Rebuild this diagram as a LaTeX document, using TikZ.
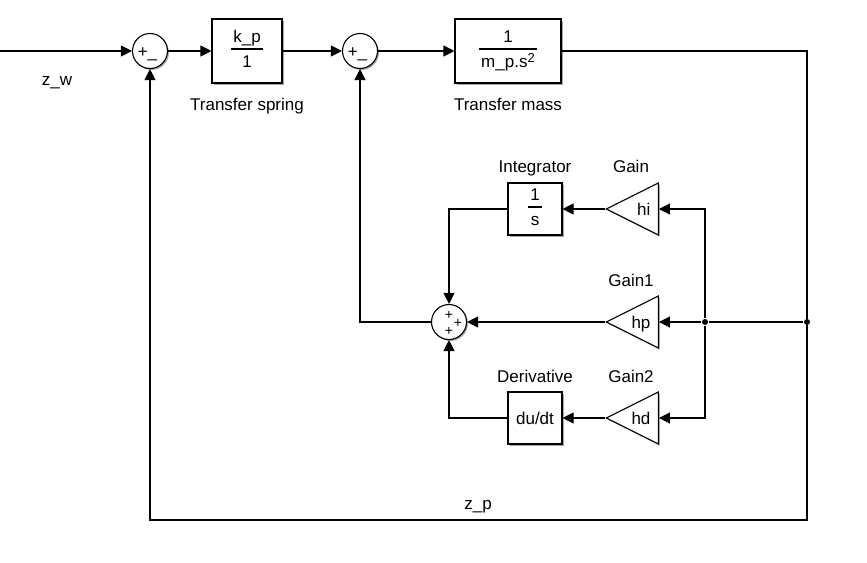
\documentclass[tikz,border=0pt]{standalone}
\usepackage{fontspec}
\setmainfont{Liberation Sans}
\usetikzlibrary{arrows.meta,shapes.geometric,shadows}

\setlength{\arrayrulewidth}{1.1pt}
\newcommand{\blkfrac}[2]{\begin{tabular}{@{\hspace{2pt}}c@{\hspace{2pt}}}#1\\\hline\rule{0pt}{18pt}#2\end{tabular}}

\begin{document}
\begin{tikzpicture}[x=1pt,y=-1pt,
    font=\fontsize{17}{20}\selectfont,
    line width=1.1pt,
    >={Triangle[length=11pt,width=11pt]},
    shadowed/.style={drop shadow={shadow xshift=1.5pt,shadow yshift=-1.5pt,opacity=.35,fill=black}},
    block/.style={draw,fill=white,rectangle,inner sep=0pt,shadowed},
    sumnode/.style={draw,fill=white,circle,minimum size=35pt,inner sep=0pt,shadowed},
    gain/.style={draw,fill=white,isosceles triangle,isosceles triangle stretches,
      shape border rotate=180,minimum width=52pt,minimum height=52pt,inner sep=0pt,
      anchor=apex,shadowed},
    gainlbl/.style={anchor=base east,inner sep=0pt,xshift=-8pt,yshift=-6.5pt},
    sgn/.style={inner sep=0pt},
    smallsgn/.style={inner sep=0pt,font=\fontsize{14}{14}\selectfont},
    dot/.style={circle,fill,inner sep=0pt,minimum size=6pt},
    txt/.style={anchor=base,inner sep=0pt}]

  \useasboundingbox (0,0) rectangle (867,562);

  \begin{scope}[every node/.style={block}]
    \node[minimum width=70pt,minimum height=64pt]  (spring) at (247,51)  {\blkfrac{k\_p}{1}};
    \node[minimum width=106pt,minimum height=64pt] (mass)   at (508,51)
      {\blkfrac{1}{m\_p.s\raisebox{5pt}{\fontsize{13}{13}\selectfont 2}}};
    \node[minimum width=54pt,minimum height=52pt]  (integ)  at (535,209) {\blkfrac{1}{s}};
    \node[minimum width=54pt,minimum height=52pt]  (deriv)  at (535,418) {du/dt};
  \end{scope}

  \node[sumnode,label={[sgn,xshift=-2.5pt,yshift=-3.5pt]center:+\_}] (s1) at (150,51) {};
  \node[sumnode,label={[sgn,xshift=-2.5pt,yshift=-3.5pt]center:+\_}] (s2) at (360,51) {};
  \node[sumnode,label={[smallsgn,yshift=7pt]center:+},
        label={[smallsgn,xshift=9pt,yshift=-1pt]center:+},
        label={[smallsgn,yshift=-9pt]center:+}] (s3) at (449,322) {};

  \node[gain,label={[gainlbl]lower side:hi}] (gi) at (605,209) {};
  \node[gain,label={[gainlbl]lower side:hp}] (gp) at (605,322) {};
  \node[gain,label={[gainlbl]lower side:hd}] (gd) at (605,418) {};

  \node[dot] (b1) at (705,322) {};
  \node[dot] (b2) at (807,322) {};
  \coordinate (zin) at (0,51);
  \coordinate (cbr) at (807,520);
  \coordinate (cbl) at (150,520);

  % block names
  \begin{scope}[every node/.style={txt}]
    \node (lzw)     at (57,85)   {z\_w};
    \node (lspring) at (247,110) {Transfer spring};
    \node (lmass)   at (508,110) {Transfer mass};
    \node (linteg)  at (535,172) {Integrator};
    \node (lgi)     at (631,172) {Gain};
    \node (lgp)     at (631,286) {Gain1};
    \node (lderiv)  at (535,382) {Derivative};
    \node (lgd)     at (631,382) {Gain2};
    \node (lzp)     at (478,509) {z\_p};
  \end{scope}

  % signal lines
  \draw[->] (zin) -- (s1);
  \draw[->] (s1) -- (spring);
  \draw[->] (spring) -- (s2);
  \draw[->] (s2) -- (mass);
  \draw[->] (mass) -| (cbr) -- (cbl) -- (s1);
  \draw (b2) -- (b1);
  \draw[->] (b1) |- (gi.lower side);
  \draw[->] (b1) -- (gp.lower side);
  \draw[->] (b1) |- (gd.lower side);
  \draw[->] (gi.apex) -- (integ);
  \draw[->] (gd.apex) -- (deriv);
  \draw[->] (gp.apex) -- (s3);
  \draw[->] (integ) -| (s3);
  \draw[->] (deriv) -| (s3);
  \draw[->] (s3) -| (s2);

\end{tikzpicture}
\end{document}
